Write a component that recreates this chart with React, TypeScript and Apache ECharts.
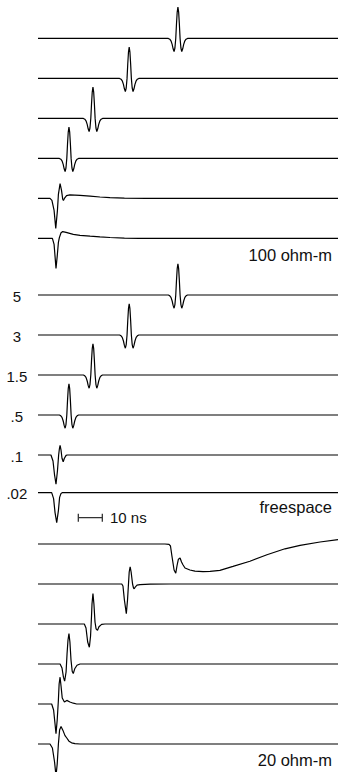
import React, { useEffect, useRef } from "react";
import * as echarts from "echarts";

// time axis (ns)
const TIME_MIN = 0;
const TIME_MAX = 125;

// symmetric wavelet shape: [time offset from centre (ns), amplitude (trace spacing units)]
const rickerShape: [number, number][] = [
  [-4.0, 0], [-3.4, -0.02], [-2.9, -0.06], [-2.4, -0.15], [-2.0, -0.26], [-1.6, -0.33],
  [-1.25, -0.24], [-0.9, 0.0], [-0.6, 0.36], [-0.3, 0.66], [0, 0.78], [0.3, 0.66],
  [0.6, 0.36], [0.9, 0.0], [1.25, -0.24], [1.6, -0.33], [2.0, -0.26], [2.4, -0.15],
  [2.9, -0.06], [3.4, -0.02], [4.0, 0],
];

const panelTitles = ["100 ohm-m", "freespace", "20 ohm-m"];
const heightLabels = ["5", "3", "1.5", ".5", ".1", ".02"];

// trace baselines (trace spacing units) per panel
const offsets100 = [5, 4, 3, 2, 1, 0];
const offsetsFree = [5, 4, 3, 2, 1, 0.06];
const offsets20 = [5, 4, 3, 2, 1, 0];

// arrival (centre) times of the symmetric wavelets, ns
const arrivals100 = [58.3, 38.0, 22.9, 12.9];
const arrivalsFree = [58.3, 38.0, 22.9, 12.9];

// 100 ohm-m, heights .1 and .02
const trace100_01: [number, number][] = [
  [5.0, 0], [5.8, -0.05], [6.7, -0.3], [7.4, -0.75], [8.1, -0.3], [8.5, 0.1], [9.2, 0.37],
  [9.8, 0.2], [10.3, -0.02], [10.6, -0.05], [11.0, 0.0], [11.9, 0.07], [13.3, 0.09],
  [17.5, 0.075], [21.7, 0.055], [25.8, 0.035], [30, 0.02], [36, 0.008], [45, 0],
];
const trace100_002: [number, number][] = [
  [6.0, 0], [6.7, -0.15], [7.1, -0.45], [7.5, -0.75], [8.0, -0.45], [8.5, -0.1], [8.9, 0.02],
  [9.6, 0.14], [10.3, 0.17], [11.7, 0.15], [14.7, 0.1], [17.5, 0.075], [21.7, 0.055],
  [25.8, 0.038], [30, 0.022], [36, 0.008], [42, 0],
];

// freespace, heights .1 and .02
const traceFree_01: [number, number][] = [
  [5.4, 0], [6.25, -0.15], [6.9, -0.5], [7.5, -0.73], [8.1, -0.4], [8.6, 0.0], [8.9, 0.15],
  [9.2, 0.24], [9.6, 0.12], [10.0, -0.08], [10.5, -0.17], [11.0, -0.08], [11.7, -0.01], [12.2, 0],
];
const traceFree_002: [number, number][] = [
  [5.7, 0], [6.5, -0.15], [7.1, -0.5], [7.8, -0.75], [8.5, -0.45], [9.0, -0.12], [9.6, -0.02], [10.2, 0],
];

// 20 ohm-m, heights 5, 3, 1.5, .5, .1, .02
const trace20_5: [number, number][] = [
  [52.9, 0], [54.6, -0.01], [55.2, -0.05], [55.8, -0.3], [56.7, -0.65], [57.4, -0.73],
  [57.9, -0.55], [58.5, -0.38], [59.2, -0.35], [59.8, -0.45], [60.4, -0.52], [61.25, -0.6],
  [63.3, -0.65], [65.4, -0.68], [68.75, -0.69], [71.7, -0.685], [75.8, -0.66], [81.25, -0.56],
  [88.3, -0.43], [95.4, -0.27], [102.9, -0.12], [109.2, -0.035], [117.5, 0.05], [125, 0.11],
];
const trace20_3: [number, number][] = [
  [34.9, 0], [35.4, -0.05], [36.0, -0.4], [36.8, -0.74], [37.3, -0.4], [37.7, 0.0], [38.0, 0.3],
  [38.4, 0.43], [38.8, 0.3], [39.4, 0.0], [39.8, -0.1], [40.1, -0.12], [40.6, -0.07],
  [41.25, -0.03], [42.5, -0.015], [46.7, -0.005], [55, 0],
];
const trace20_15: [number, number][] = [
  [19.3, 0], [20.0, -0.1], [20.7, -0.45], [21.4, -0.58], [21.9, -0.3], [22.3, 0.2], [22.5, 0.5],
  [22.9, 0.76], [23.3, 0.5], [23.75, 0.05], [24.2, -0.12], [24.8, -0.16], [25.4, -0.07],
  [26.5, -0.01], [27.9, 0],
];
const trace20_05: [number, number][] = [
  [9.2, 0], [10.0, -0.1], [10.6, -0.33], [11.1, -0.43], [11.7, -0.2], [12.1, 0.25], [12.5, 0.6],
  [12.9, 0.76], [13.3, 0.55], [13.75, 0.1], [14.25, -0.18], [14.7, -0.24], [15.3, -0.12],
  [16.25, -0.03], [17.5, 0],
];
const trace20_01: [number, number][] = [
  [5.7, 0], [6.5, -0.15], [7.1, -0.5], [7.5, -0.74], [8.0, -0.4], [8.5, 0.1], [8.8, 0.5],
  [9.2, 0.67], [9.6, 0.45], [10.1, 0.15], [11.0, 0.05], [12.0, 0.09], [13.3, 0.05],
  [14.7, 0.02], [16.1, 0],
];
const trace20_002: [number, number][] = [
  [5.0, 0], [6.0, -0.1], [6.9, -0.45], [7.5, -0.8], [8.0, -0.5], [8.5, 0.0], [9.0, 0.35],
  [9.6, 0.44], [10.4, 0.34], [11.25, 0.21], [12.0, 0.15], [12.9, 0.07], [14.0, 0.03],
  [15.4, 0.01], [17.5, 0],
];

// scale bar: 10 ns
const scaleBarNs = [16.8, 26.8];
const scaleBarLabel = "10 ns";

// layout (pixels)
const LEFT = 38;
const PLOT_W = 300;
const UNIT = 40; // px per trace spacing
const panelGrids = [
  { top: 0, yMin: -1.04, yMax: 5.96 },
  { top: 255, yMin: -1, yMax: 6 },
  { top: 504, yMin: -0.7, yMax: 6 },
];

const FONT = "'Liberation Sans', Arial, Helvetica, sans-serif";

function shifted(shape: [number, number][], centre: number): [number, number][] {
  return shape.map(([dt, a]) => [centre + dt, a] as [number, number]);
}

function buildTrace(points: [number, number][], offset: number): [number, number][] {
  const data: [number, number][] = [[TIME_MIN, offset]];
  points.forEach(([t, a]) => data.push([t, a + offset]));
  const last = points[points.length - 1];
  if (last[0] < TIME_MAX) data.push([TIME_MAX, offset]);
  return data;
}

export default function App() {
  const ref = useRef<HTMLDivElement>(null);
  useEffect(() => {
    if (!ref.current) return;
    const chart = echarts.init(ref.current, undefined, { renderer: "svg" });

    const panelTraces: { offsets: number[]; traces: [number, number][][] }[] = [
      {
        offsets: offsets100,
        traces: [
          ...arrivals100.map((c) => shifted(rickerShape, c)),
          trace100_01,
          trace100_002,
        ],
      },
      {
        offsets: offsetsFree,
        traces: [
          ...arrivalsFree.map((c) => shifted(rickerShape, c)),
          traceFree_01,
          traceFree_002,
        ],
      },
      {
        offsets: offsets20,
        traces: [trace20_5, trace20_3, trace20_15, trace20_05, trace20_01, trace20_002],
      },
    ];

    const series: any[] = [];
    panelTraces.forEach((p, pi) => {
      p.traces.forEach((tr, ti) => {
        series.push({
          type: "line",
          xAxisIndex: pi,
          yAxisIndex: pi,
          data: buildTrace(tr, p.offsets[ti]),
          showSymbol: false,
          symbol: "none",
          silent: true,
          clip: false,
          lineStyle: { color: "#000", width: 1.2 },
        });
      });
    });

    const barY = -0.5675;
    series.push({
      type: "line",
      xAxisIndex: 1,
      yAxisIndex: 1,
      data: scaleBarNs.map((t) => [t, barY]),
      symbol: "rect",
      symbolSize: [1.3, 8],
      showSymbol: true,
      silent: true,
      itemStyle: { color: "#333" },
      lineStyle: { color: "#333", width: 1.3 },
    });

    const graphics: any[] = [];
    const titleY = [255, 506.5, 759.5];
    panelTitles.forEach((t, i) => {
      graphics.push({
        type: "text",
        x: 332,
        y: titleY[i],
        style: {
          text: t,
          font: `16.5px ${FONT}`,
          fill: "#111",
          textAlign: "right",
          textVerticalAlign: "middle",
        },
      });
    });
    const g2 = panelGrids[1];
    heightLabels.forEach((l, i) => {
      graphics.push({
        type: "text",
        x: 16.8,
        y: g2.top + (g2.yMax - offsetsFree[i]) * UNIT + 1,
        style: {
          text: l,
          font: `15px ${FONT}`,
          fill: "#111",
          textAlign: "center",
          textVerticalAlign: "middle",
        },
      });
    });
    graphics.push({
      type: "text",
      x: 110,
      y: g2.top + (g2.yMax - barY) * UNIT,
      style: {
        text: scaleBarLabel,
        font: `15px ${FONT}`,
        fill: "#111",
        textAlign: "left",
        textVerticalAlign: "middle",
      },
    });

    chart.setOption({
      animation: false,
      backgroundColor: "#fff",
      grid: panelGrids.map((g) => ({
        left: LEFT,
        width: PLOT_W,
        top: g.top,
        height: (g.yMax - g.yMin) * UNIT,
        containLabel: false,
      })),
      xAxis: panelGrids.map((_, i) => ({
        type: "value",
        gridIndex: i,
        min: TIME_MIN,
        max: TIME_MAX,
        show: false,
      })),
      yAxis: panelGrids.map((g, i) => ({
        type: "value",
        gridIndex: i,
        min: g.yMin,
        max: g.yMax,
        show: false,
      })),
      series,
      graphic: graphics,
    });

    return () => chart.dispose();
  }, []);

  return (
    <div
      ref={ref}
      style={{ position: "absolute", left: 0, top: 0, width: 338, height: 772, background: "#fff" }}
    />
  );
}
